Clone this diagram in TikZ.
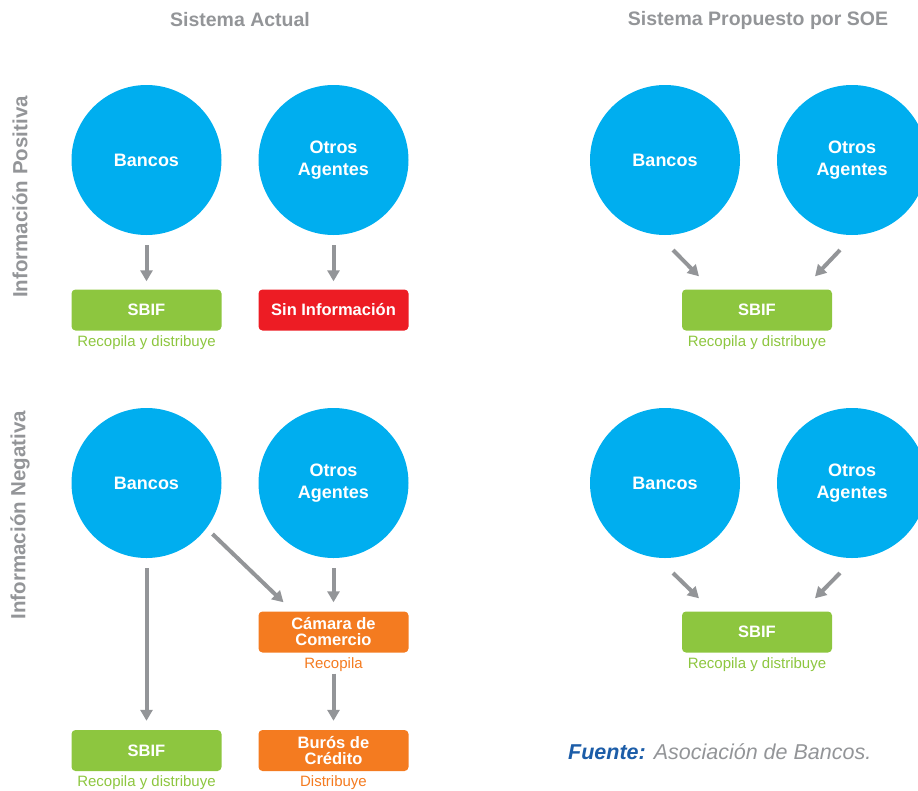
\documentclass[tikz,border=0pt]{standalone}
\usepackage{fontspec}
\setmainfont{Liberation Sans}
\usetikzlibrary{arrows.meta}
\definecolor{circblue}{HTML}{00AEEF}
\definecolor{sbifgreen}{HTML}{8DC63F}
\definecolor{alertred}{HTML}{ED1C24}
\definecolor{camorange}{HTML}{F47B20}
\definecolor{txtgray}{HTML}{939598}
\definecolor{srcblue}{HTML}{1C5DA8}
\tikzset{
  agent/.style={circle, fill=circblue, minimum size=150pt, inner sep=0pt,
    text=white, align=center, font=\fontsize{18pt}{22pt}\selectfont\bfseries},
  entity/.style={rounded corners=4pt, minimum width=150pt, minimum height=41pt,
    inner sep=0pt, text=white, align=center,
    font=\fontsize{16.5pt}{16pt}\selectfont\bfseries},
  greenbox/.style={entity, fill=sbifgreen},
  redbox/.style={entity, fill=alertred},
  orangebox/.style={entity, fill=camorange},
  role/.style={font=\fontsize{15pt}{17pt}\selectfont, inner sep=0pt},
  header/.style={text=txtgray, font=\fontsize{19.5pt}{22pt}\selectfont\bfseries},
  sidelabel/.style={text=txtgray, rotate=90, font=\fontsize{20.5pt}{22pt}\selectfont\bfseries},
  flow/.style={draw=txtgray, line width=4pt, -{Triangle[width=12pt,length=11pt]}}
}
\begin{document}
\begin{tikzpicture}[x=1pt, y=-1pt]
\useasboundingbox (0,0) rectangle (918,790);
\begin{scope}
\clip (0,0) rectangle (918,790);

% column and row headings
\node[header] (h1) at (240,20) {Sistema Actual};
\node[header] (h2) at (758,20) {Sistema Propuesto por SOE};
\node[sidelabel] (v1) at (20,197) {Información Positiva};
\node[sidelabel] (v2) at (20,515) {Información Negativa};

% ---- positive information, current system
\node[agent] (pb) at (146.5,160) {Bancos};
\node[agent] (po) at (333.5,160) {Otros\\Agentes};
\node[greenbox] (ps) at (146.5,310) {SBIF};
\node[redbox] (pn) at (333.5,310) {Sin Información};
\node[role, text=sbifgreen] (psl) at ([yshift=-11.5pt]ps.south) {Recopila y distribuye};
\draw[flow, shorten <=10pt, shorten >=8pt] (pb.south) -- (ps.north);
\draw[flow, shorten <=10pt, shorten >=8pt] (po.south) -- (pn.north);

% ---- positive information, proposed system
\node[agent] (qb) at (665,160) {Bancos};
\node[agent] (qo) at (852,160) {Otros\\Agentes};
\node[greenbox] (qs) at (757,310) {SBIF};
\node[role, text=sbifgreen] (qsl) at ([yshift=-11.5pt]qs.south) {Recopila y distribuye};
\draw[flow] ([shift={(8,90)}]qb.center) -- ([shift={(-58,-13)}]qs.north);
\draw[flow] ([shift={(-12,90)}]qo.center) -- ([shift={(58,-13)}]qs.north);

% ---- negative information, current system
\node[agent] (nb) at (146.5,483) {Bancos};
\node[agent] (no) at (333.5,483) {Otros\\Agentes};
\node[orangebox] (nc) at (333.5,632) {Cámara de\\Comercio};
\node[role, text=camorange] (ncl) at ([yshift=-11.5pt]nc.south) {Recopila};
\node[orangebox] (nu) at (333.5,750.5) {Burós de\\Crédito};
\node[role, text=camorange] (nul) at ([yshift=-11.5pt]nu.south) {Distribuye};
\node[greenbox] (ns) at (146.5,750.5) {SBIF};
\node[role, text=sbifgreen] (nsl) at ([yshift=-11.5pt]ns.south) {Recopila y distribuye};
\draw[flow, shorten <=10pt, shorten >=9pt] (nb.south) -- (ns.north);
\draw[flow] ([shift={(66,51)}]nb.center) -- ([shift={(-50,-9)}]nc.north);
\draw[flow, shorten <=10pt, shorten >=9pt] (no.south) -- (nc.north);
\draw[flow] ([yshift=-21pt]nc.south) -- ([yshift=9pt]nu.north);

% ---- negative information, proposed system
\node[agent] (mb) at (665,483) {Bancos};
\node[agent] (mo) at (852,483) {Otros\\Agentes};
\node[greenbox] (ms) at (757,632) {SBIF};
\node[role, text=sbifgreen] (msl) at ([yshift=-11.5pt]ms.south) {Recopila y distribuye};
\draw[flow] ([shift={(8,90)}]mb.center) -- ([shift={(-58,-13)}]ms.north);
\draw[flow] ([shift={(-12,90)}]mo.center) -- ([shift={(58,-13)}]ms.north);

% source note
\node[anchor=west, inner sep=0pt, font=\fontsize{21.5pt}{23pt}\selectfont\itshape] (src) at (568,752)
  {\textcolor{srcblue}{\bfseries Fuente:} \textcolor{txtgray}{Asociación de Bancos.}};
\end{scope}
\end{tikzpicture}
\end{document}
